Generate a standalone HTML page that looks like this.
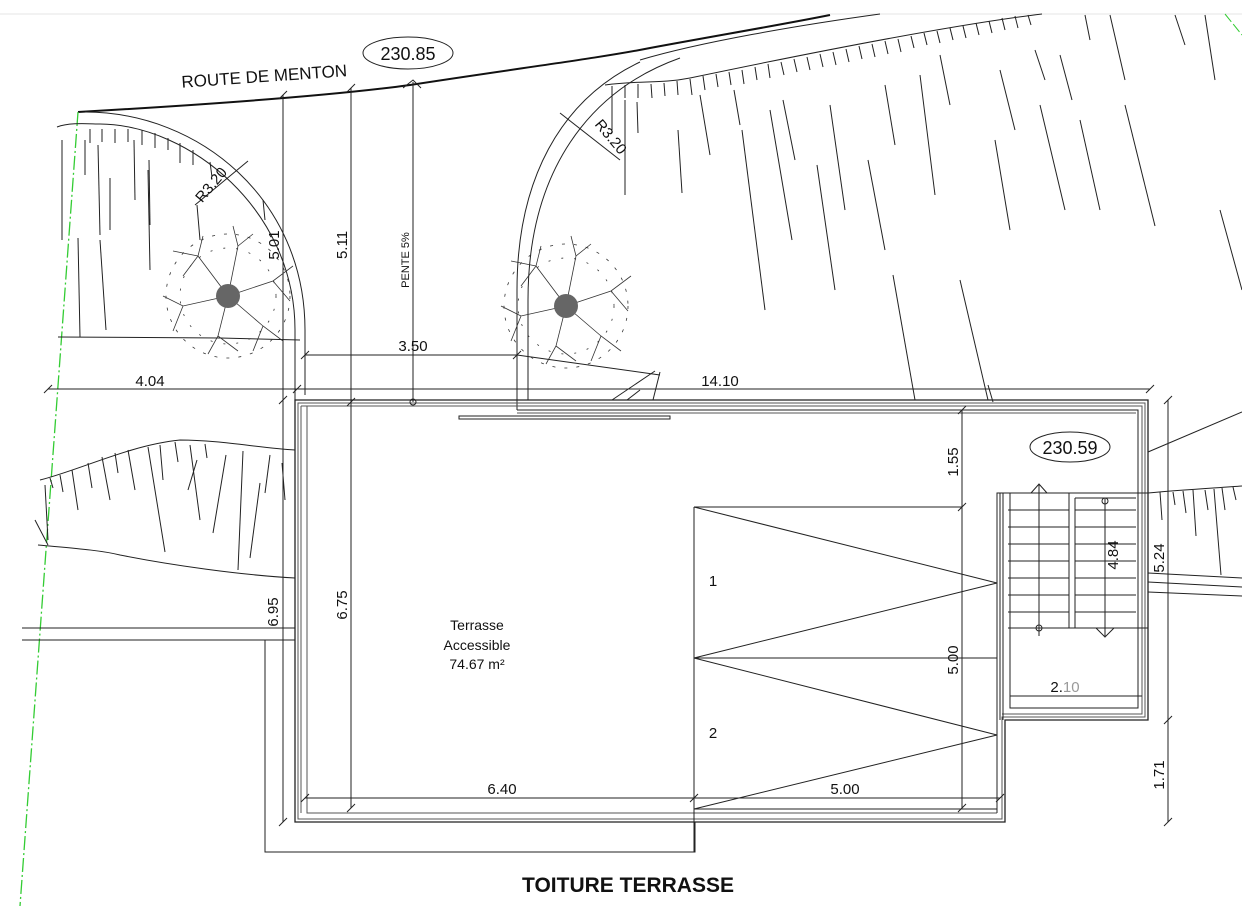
<!DOCTYPE html>
<html><head><meta charset="utf-8"><style>
html,body{margin:0;padding:0;background:#fff;width:1242px;height:906px;overflow:hidden}
svg{display:block}
text{font-family:"Liberation Sans",Arial,sans-serif;fill:#111}
</style></head><body>
<svg width="1242" height="906" viewBox="0 0 1242 906" xmlns="http://www.w3.org/2000/svg">
<g fill="none" stroke="#222" stroke-width="1">
<line x1="0" y1="14" x2="1242" y2="14" stroke="#e6e6e6"/>
<path d="M78,112 C200,105 330,96 410,85 C520,68 600,58 650,48 C720,35 780,25 830,15" stroke="#111" stroke-width="2"/>
<path d="M640,60 C700,42 800,25 880,14" />
<path d="M78,112 L20,906" stroke="#3c3" stroke-dasharray="14,3,2,3" stroke-width="1.3"/>
<path d="M85,112 C200,112 305,200 305,330 L305,395"/>
<path d="M57,127 C70,122 90,124 100,124 C190,125 295,210 295,330 L295,400"/>
<line x1="58" y1="337" x2="220" y2="338"/><line x1="220" y1="338" x2="300" y2="340"/>
<line x1="195" y1="205" x2="248" y2="161"/>
<path d="M640,62 C560,100 517,180 517,290 L517,410"/>
<path d="M680,58 C590,90 528,170 528,300 L528,400"/>
<path d="M605,85 C640,80 660,84 690,78 C800,55 950,25 1042,14"/>
<line x1="560" y1="113" x2="620" y2="160"/>
<line x1="517" y1="355" x2="660" y2="375"/>
<line x1="612" y1="400" x2="655" y2="371"/><line x1="627" y1="400" x2="640" y2="390"/><line x1="660" y1="372" x2="653" y2="400"/>
<g>
<line x1="90" y1="129" x2="90" y2="143"/><line x1="102" y1="129" x2="102" y2="142"/><line x1="115" y1="129" x2="115" y2="143"/><line x1="128" y1="129" x2="128" y2="142"/><line x1="142" y1="130" x2="142" y2="145"/><line x1="155" y1="133" x2="155" y2="148"/><line x1="168" y1="138" x2="168" y2="150"/><line x1="180" y1="143" x2="180" y2="163"/><line x1="193" y1="150" x2="193" y2="165"/><line x1="210" y1="162" x2="212" y2="177"/>
<line x1="62" y1="140" x2="62" y2="240"/><line x1="85" y1="140" x2="85" y2="175"/><line x1="98" y1="145" x2="100" y2="235"/><line x1="134" y1="140" x2="135" y2="200"/><line x1="110" y1="178" x2="110" y2="230"/><line x1="149" y1="160" x2="150" y2="225"/><line x1="100" y1="240" x2="106" y2="330"/><line x1="148" y1="170" x2="150" y2="270"/><line x1="197" y1="205" x2="200" y2="240"/><line x1="78" y1="238" x2="80" y2="337"/><line x1="263" y1="200" x2="265" y2="220"/>
</g>
<g>
<line x1="612" y1="86" x2="612" y2="100"/><line x1="625" y1="85" x2="625" y2="98"/><line x1="638" y1="84" x2="638" y2="98"/><line x1="651" y1="84" x2="652" y2="98"/><line x1="664" y1="83" x2="665" y2="96"/><line x1="677" y1="81" x2="678" y2="95"/><line x1="690" y1="79" x2="692" y2="95"/><line x1="703" y1="76" x2="705" y2="90"/><line x1="716" y1="74" x2="718" y2="87"/><line x1="729" y1="72" x2="731" y2="85"/><line x1="742" y1="70" x2="744" y2="84"/><line x1="755" y1="67" x2="757" y2="80"/><line x1="768" y1="64" x2="770" y2="78"/><line x1="781" y1="62" x2="784" y2="75"/><line x1="794" y1="59" x2="797" y2="72"/><line x1="807" y1="57" x2="810" y2="70"/><line x1="820" y1="54" x2="823" y2="67"/><line x1="833" y1="52" x2="836" y2="65"/><line x1="846" y1="49" x2="849" y2="62"/><line x1="859" y1="46" x2="862" y2="59"/><line x1="872" y1="44" x2="875" y2="57"/><line x1="885" y1="41" x2="888" y2="54"/><line x1="898" y1="39" x2="901" y2="52"/><line x1="911" y1="36" x2="914" y2="48"/><line x1="924" y1="33" x2="927" y2="45"/><line x1="937" y1="31" x2="940" y2="43"/><line x1="950" y1="28" x2="953" y2="40"/><line x1="963" y1="26" x2="966" y2="38"/><line x1="976" y1="23" x2="979" y2="35"/><line x1="989" y1="21" x2="992" y2="33"/><line x1="1002" y1="18" x2="1005" y2="30"/><line x1="1015" y1="16" x2="1018" y2="28"/><line x1="1028" y1="15" x2="1031" y2="25"/>
<line x1="612" y1="100" x2="612" y2="130"/><line x1="625" y1="100" x2="625" y2="195"/><line x1="637" y1="102" x2="638" y2="133"/><line x1="678" y1="130" x2="682" y2="193"/><line x1="700" y1="95" x2="710" y2="155"/><line x1="742" y1="130" x2="765" y2="310"/><line x1="734" y1="90" x2="740" y2="125"/><line x1="770" y1="110" x2="792" y2="240"/><line x1="783" y1="100" x2="795" y2="160"/><line x1="817" y1="165" x2="835" y2="290"/><line x1="830" y1="105" x2="845" y2="210"/><line x1="868" y1="160" x2="885" y2="250"/><line x1="885" y1="85" x2="895" y2="145"/><line x1="893" y1="275" x2="915" y2="400"/><line x1="920" y1="75" x2="935" y2="195"/><line x1="940" y1="55" x2="950" y2="105"/><line x1="995" y1="140" x2="1010" y2="230"/><line x1="1000" y1="70" x2="1015" y2="130"/><line x1="1035" y1="50" x2="1045" y2="80"/><line x1="988" y1="385" x2="993" y2="402"/><line x1="1040" y1="105" x2="1065" y2="210"/>
<line x1="1080" y1="120" x2="1100" y2="210"/><line x1="1125" y1="105" x2="1155" y2="226"/><line x1="1060" y1="55" x2="1072" y2="100"/><line x1="1110" y1="15" x2="1125" y2="80"/><line x1="1085" y1="15" x2="1090" y2="40"/><line x1="1175" y1="15" x2="1185" y2="45"/><line x1="1205" y1="15" x2="1215" y2="80"/><line x1="1220" y1="210" x2="1242" y2="290"/>
<line x1="960" y1="280" x2="988" y2="400"/>
</g>
<path d="M1225,14 L1242,35" stroke="#3c3" stroke-dasharray="10,3"/>
<path d="M40,480 C80,470 130,445 180,440 C220,440 260,448 295,450"/>
<path d="M38,545 C70,548 100,550 120,555 C170,565 240,575 295,578"/>
<g>
<line x1="50" y1="478" x2="53" y2="488"/><line x1="60" y1="475" x2="63" y2="492"/><line x1="72" y1="470" x2="78" y2="510"/><line x1="88" y1="463" x2="92" y2="488"/><line x1="102" y1="457" x2="110" y2="500"/><line x1="115" y1="453" x2="118" y2="473"/><line x1="128" y1="450" x2="135" y2="490"/><line x1="148" y1="447" x2="165" y2="552"/><line x1="160" y1="445" x2="163" y2="480"/><line x1="175" y1="442" x2="178" y2="462"/><line x1="190" y1="445" x2="200" y2="520"/><line x1="205" y1="444" x2="207" y2="458"/><line x1="226" y1="455" x2="213" y2="533"/><line x1="243" y1="451" x2="238" y2="570"/><line x1="270" y1="455" x2="265" y2="493"/><line x1="260" y1="483" x2="250" y2="558"/><line x1="282" y1="463" x2="285" y2="500"/><line x1="197" y1="460" x2="188" y2="490"/><line x1="35" y1="520" x2="48" y2="545"/><line x1="45" y1="485" x2="48" y2="540"/>
</g>
<line x1="22" y1="628" x2="295" y2="628"/><line x1="22" y1="640" x2="295" y2="640"/>
<line x1="1148" y1="452" x2="1242" y2="412"/>
<path d="M1148,493 C1180,490 1215,488 1242,486"/>
<g><line x1="1160" y1="492" x2="1162" y2="520"/><line x1="1173" y1="492" x2="1175" y2="505"/><line x1="1183" y1="491" x2="1186" y2="513"/><line x1="1193" y1="490" x2="1196" y2="536"/><line x1="1205" y1="490" x2="1208" y2="510"/><line x1="1214" y1="489" x2="1221" y2="575"/><line x1="1222" y1="488" x2="1225" y2="510"/><line x1="1233" y1="487" x2="1236" y2="500"/></g>
<line x1="1148" y1="573" x2="1242" y2="578"/><line x1="1148" y1="582" x2="1242" y2="587"/><line x1="1148" y1="592" x2="1242" y2="596"/>
<path d="M295,400 L1148,400 L1148,720 L1005,720 L1005,822 L295,822 Z" stroke-width="1.3"/>
<path d="M298,403 L1145,403 L1145,717 L1002,717 L1002,819 L298,819 Z" stroke="#555"/>
<path d="M301,406 L1142,406 L1142,714 L1002,714" stroke="#555"/>
<path d="M307,406 L307,813 L997,813" stroke="#555"/>
<path d="M517,410 L1138,410 L1138,708 L1010,708 L1010,493 L997,493 L997,813"/>
<path d="M517,413 L1136,413" stroke="#555"/>
<path d="M301,813 L301,406" stroke="#555"/>
<rect x="459" y="416" width="211" height="3"/>
<path d="M265,640 L265,852 L695,852 L695,822"/>
<line x1="694" y1="507" x2="694" y2="852"/>
<line x1="694" y1="507" x2="962" y2="507"/>
<polyline points="694,507 997,583 694,658 997,735 694,809"/>
<line x1="694" y1="658" x2="997" y2="658"/>
<line x1="694" y1="809" x2="997" y2="809"/>
<line x1="1000" y1="493" x2="1000" y2="720"/><line x1="1003" y1="493" x2="1003" y2="720"/>
<line x1="997" y1="493" x2="1148" y2="493"/>
<line x1="1069" y1="493" x2="1069" y2="628"/>
<line x1="1075" y1="498" x2="1075" y2="628"/>
<line x1="1075" y1="498" x2="1136" y2="498"/>
<line x1="1008" y1="628" x2="1148" y2="628"/>
<g>
<line x1="1008" y1="510" x2="1069" y2="510"/><line x1="1075" y1="510" x2="1136" y2="510"/>
<line x1="1008" y1="527" x2="1069" y2="527"/><line x1="1075" y1="527" x2="1136" y2="527"/>
<line x1="1008" y1="544" x2="1069" y2="544"/><line x1="1075" y1="544" x2="1136" y2="544"/>
<line x1="1008" y1="561" x2="1069" y2="561"/><line x1="1075" y1="561" x2="1136" y2="561"/>
<line x1="1008" y1="578" x2="1069" y2="578"/><line x1="1075" y1="578" x2="1136" y2="578"/>
<line x1="1008" y1="595" x2="1069" y2="595"/><line x1="1075" y1="595" x2="1136" y2="595"/>
<line x1="1008" y1="612" x2="1069" y2="612"/><line x1="1075" y1="612" x2="1136" y2="612"/>
</g>
<line x1="1039" y1="484" x2="1039" y2="636"/><circle cx="1039" cy="628" r="3"/>
<path d="M1031,493 L1039,484 L1047,493"/>
<line x1="1105" y1="498" x2="1105" y2="636"/><circle cx="1105" cy="501" r="3"/>
<path d="M1096,628 L1105,637 L1114,628"/>
<line x1="48" y1="389" x2="1150" y2="389"/>
<line x1="305" y1="355" x2="517" y2="355"/>
<line x1="283" y1="95" x2="283" y2="400"/>
<line x1="283" y1="400" x2="283" y2="822"/>
<line x1="351" y1="88" x2="351" y2="808"/>
<line x1="413" y1="82" x2="413" y2="402"/><circle cx="413" cy="402" r="3"/>
<path d="M403,88 L413,80 L421,88"/>
<line x1="305" y1="798" x2="1000" y2="798"/>
<line x1="962" y1="410" x2="962" y2="808"/>
<line x1="1168" y1="400" x2="1168" y2="822"/>
<line x1="1010" y1="696" x2="1142" y2="696"/>
<g stroke-width="1"><line x1="44" y1="393" x2="52" y2="385"/><line x1="293" y1="393" x2="301" y2="385"/><line x1="1146" y1="393" x2="1154" y2="385"/><line x1="301" y1="359" x2="309" y2="351"/><line x1="513" y1="359" x2="521" y2="351"/><line x1="347" y1="92" x2="355" y2="84"/><line x1="347" y1="406" x2="355" y2="398"/><line x1="347" y1="812" x2="355" y2="804"/><line x1="279" y1="99" x2="287" y2="91"/><line x1="279" y1="404" x2="287" y2="396"/><line x1="279" y1="826" x2="287" y2="818"/><line x1="301" y1="802" x2="309" y2="794"/><line x1="690" y1="802" x2="698" y2="794"/><line x1="996" y1="802" x2="1004" y2="794"/><line x1="958" y1="414" x2="966" y2="406"/><line x1="958" y1="511" x2="966" y2="503"/><line x1="958" y1="812" x2="966" y2="804"/><line x1="1164" y1="404" x2="1172" y2="396"/><line x1="1164" y1="724" x2="1172" y2="716"/><line x1="1164" y1="826" x2="1172" y2="818"/></g>
<g stroke="#333" stroke-width="0.8">
<g transform="translate(228,296)">
<path d="M0,0 L-30,-40 L-25,-60 M-30,-40 L-55,-45 M0,0 L10,-50 L5,-70 M10,-50 L25,-62 M0,0 L45,-15 L65,-30 M45,-15 L62,5 M0,0 L35,30 L55,45 M35,30 L25,55 M0,0 L-10,40 L-20,58 M-10,40 L10,55 M0,0 L-45,10 L-65,0 M-45,10 L-55,35 M-30,-40 L-45,-20"/>
<circle cx="0" cy="0" r="62" stroke-dasharray="3,9" />
<circle cx="0" cy="0" r="48" stroke-dasharray="2,11"/>
<circle cx="0" cy="0" r="12" fill="#666" stroke="none"/>
</g>
<g transform="translate(566,306)">
<path d="M0,0 L-30,-40 L-25,-60 M-30,-40 L-55,-45 M0,0 L10,-50 L5,-70 M10,-50 L25,-62 M0,0 L45,-15 L65,-30 M45,-15 L62,5 M0,0 L35,30 L55,45 M35,30 L25,55 M0,0 L-10,40 L-20,58 M-10,40 L10,55 M0,0 L-45,10 L-65,0 M-45,10 L-55,35 M-30,-40 L-45,-20"/>
<circle cx="0" cy="0" r="62" stroke-dasharray="3,9"/>
<circle cx="0" cy="0" r="48" stroke-dasharray="2,11"/>
<circle cx="0" cy="0" r="12" fill="#666" stroke="none"/>
</g>
</g>
<ellipse cx="408" cy="53" rx="45" ry="16"/>
<ellipse cx="1070" cy="447" rx="40" ry="15"/>
</g>
<text x="181" y="82" font-size="17" transform="rotate(-4 264 72)">ROUTE DE MENTON</text>
<text x="408" y="60" font-size="18" text-anchor="middle">230.85</text>
<text x="1070" y="454" font-size="18" text-anchor="middle">230.59</text>
<text x="215" y="188" font-size="15" text-anchor="middle" transform="rotate(-50 215 188)">R3.20</text>
<text x="607" y="140" font-size="15" text-anchor="middle" transform="rotate(50 607 140)">R3.20</text>
<g font-size="15" text-anchor="middle">
<text x="150" y="386">4.04</text>
<text x="720" y="386">14.10</text>
<text x="413" y="351">3.50</text>
<text x="502" y="794">6.40</text>
<text x="845" y="794">5.00</text>
<text x="1065" y="692">2.<tspan fill="#999">10</tspan></text>
<text transform="translate(347,245) rotate(-90)">5.11</text>
<text transform="translate(279,245) rotate(-90)">5.01</text>
<text transform="translate(278,612) rotate(-90)">6.95</text>
<text transform="translate(347,605) rotate(-90)">6.75</text>
<text transform="translate(958,462) rotate(-90)">1.55</text>
<text transform="translate(958,660) rotate(-90)">5.00</text>
<text transform="translate(1118,555) rotate(-90)">4.84</text>
<text transform="translate(1164,558) rotate(-90)">5.24</text>
<text transform="translate(1164,775) rotate(-90)">1.71</text>
<text x="713" y="586">1</text>
<text x="713" y="738">2</text>
</g>
<text transform="translate(409,260) rotate(-90)" font-size="11" text-anchor="middle">PENTE 5%</text>
<g font-size="14" text-anchor="middle">
<text x="477" y="630">Terrasse</text>
<text x="477" y="650">Accessible</text>
<text x="477" y="669">74.67 m²</text>
</g>
<text x="628" y="892" font-size="21" font-weight="bold" text-anchor="middle">TOITURE TERRASSE</text>
</svg>
</body></html>
